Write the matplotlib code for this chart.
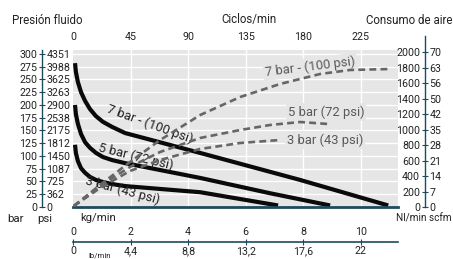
import matplotlib
matplotlib.use("Agg")
import matplotlib.pyplot as plt
from matplotlib import font_manager as fm

# ---------------- data ----------------
# fluid pressure curves (x: kg/min, y: bar)
kg_7 = [0.07, 0.10, 0.17, 0.28, 0.42, 0.59, 0.80, 1.04, 1.36, 1.81, 4.42, 7.90, 10.96]
bar_7 = [282, 265, 245, 225, 208, 192, 178, 167, 157, 145, 106, 53, 3]
kg_5 = [0.07, 0.10, 0.17, 0.28, 0.42, 0.59, 0.80, 1.04, 1.36, 1.81, 4.42, 6.85, 8.94]
bar_5 = [200, 182, 163, 143, 127, 116, 106, 98, 92, 86, 57, 27, 3]
kg_3 = [0.07, 0.10, 0.17, 0.28, 0.42, 0.59, 0.80, 1.04, 1.36, 1.81, 4.42, 7.13]
bar_3 = [122, 106, 90, 76, 67, 59, 53, 49, 45, 41, 29, 3]

# air consumption curves (x: kg/min, y: Nl/min)
kg_a7 = [0.03, 0.94, 1.98, 3.03, 4.42, 5.81, 7.20, 8.59, 9.63, 11.05]
nl_a7 = [13, 285, 582, 867, 1190, 1423, 1592, 1721, 1773, 1786]
kg_a5 = [0.03, 0.94, 1.98, 3.03, 4.42, 5.81, 6.85, 7.90, 8.87]
nl_a5 = [13, 272, 518, 712, 893, 996, 1061, 1100, 1074]
kg_a3 = [0.03, 0.94, 1.98, 3.03, 4.42, 5.81, 7.20]
nl_a3 = [13, 246, 466, 608, 751, 828, 867]

# axes ticks / labels
bar_ticks = [0, 25, 50, 75, 100, 125, 150, 175, 200, 225, 250, 275, 300]
psi_labels = ["0", "362", "725", "1087", "1450", "1812", "2175", "2538", "2900",
              "3263", "3625", "3988", "4351"]
nl_ticks = [0, 200, 400, 600, 800, 1000, 1200, 1400, 1600, 1800, 2000]
scfm_labels = ["0", "7", "14", "21", "28", "35", "42", "50", "56", "63", "70"]
kg_ticks = [0, 2, 4, 6, 8, 10]
kg_labels = ["0", "2", "4", "6", "8", "10"]
lb_labels = ["0", "4,4", "8,8", "13,2", "17,6", "22"]
cyc_ticks = [0, 45, 90, 135, 180, 225]

curve_labels_black = ["7 bar - (100 psi)", "5 bar (72 psi)", "3 bar (43 psi)"]
curve_labels_gray = ["7 bar - (100 psi)", "5 bar (72 psi)", "3 bar (43 psi)"]

# ---------------- style ----------------
fonts = fm.fontManager.ttflist
names = {f.name for f in fonts}
if "Liberation Sans Narrow" in names:
    plt.rcParams["font.family"] = ["Liberation Sans Narrow", "DejaVu Sans"]
    SC = 1.15
else:
    plt.rcParams["font.family"] = ["Roboto", "DejaVu Sans"]
    SC = 1.0

W, H = 453, 259
fig = plt.figure(figsize=(W / 100, H / 100), dpi=100)

def fx(px):
    return px / W

def fy(py):
    return 1 - py / H

BG = "#e6e6e6"
TEAL = "#1d4b5c"
TXT = "#222222"
GRAY = "#595959"
TS = 7.7 * SC
LS = 9.4 * SC
TT = 8.3 * SC

XMAX = 11.30
BMAX = 307.8
NLMAX = 2031.6

# main plot
ax = fig.add_axes([fx(73), fy(207), fx(398) - fx(73), fy(50) - fy(207)])
ax.set_facecolor(BG)
ax.set_xlim(0, XMAX)
ax.set_ylim(0, BMAX)
ax.set_xticks(kg_ticks[1:])
ax.set_yticks(bar_ticks[1:])
ax.grid(True, color="white", linewidth=1.0)
ax.set_axisbelow(True)
ax.tick_params(length=0, labelbottom=False, labelleft=False)
for s in ["top", "right", "left"]:
    ax.spines[s].set_visible(False)
ax.spines["bottom"].set_color(TEAL)
ax.spines["bottom"].set_linewidth(2.0)
ax.spines["bottom"].set_zorder(5)

for k, b in [(kg_7, bar_7), (kg_5, bar_5), (kg_3, bar_3)]:
    ax.plot(k, b, color="#0a0a0a", linewidth=3.0, solid_capstyle="butt",
            solid_joinstyle="round", zorder=3)

# black curve labels
ax.text(2.68, 163, curve_labels_black[0], rotation=-20, ha="center", va="center",
        fontsize=LS, color=TXT, zorder=4, rotation_mode="anchor")
ax.text(2.19, 98, curve_labels_black[1], rotation=-14, ha="center", va="center",
        fontsize=LS, color=TXT, zorder=4, rotation_mode="anchor")
ax.text(1.74, 33, curve_labels_black[2], rotation=-15, ha="center", va="center",
        fontsize=LS, color=TXT, zorder=4, rotation_mode="anchor")

# top cycles axis
sec = ax.secondary_xaxis("top", functions=(lambda k: k * 22.5, lambda c: c / 22.5))
sec.set_xticks(cyc_ticks)
sec.tick_params(length=0, pad=5.5, labelsize=TS, labelcolor=TXT)
sec.spines["top"].set_visible(False)

# air consumption on twin axis
ax2 = ax.twinx()
ax2.set_ylim(0, NLMAX)
ax2.axis("off")
bbox = dict(boxstyle="square,pad=0.15", facecolor=BG, edgecolor="none")
ax2.text(8.25, 1815, curve_labels_gray[0], rotation=7, ha="center", va="center",
         fontsize=LS, color=GRAY, zorder=1, bbox=bbox, rotation_mode="anchor")
ax2.text(8.80, 1229, curve_labels_gray[1], ha="center", va="center",
         fontsize=LS, color=GRAY, zorder=1, bbox=bbox)
ax2.text(8.77, 867, curve_labels_gray[2], ha="center", va="center",
         fontsize=LS, color=GRAY, zorder=1, bbox=bbox)
for k, n in [(kg_a7, nl_a7), (kg_a5, nl_a5), (kg_a3, nl_a3)]:
    ax2.plot(k, n, color="#666666", linewidth=1.9, linestyle=(0, (2.6, 1.6)),
             zorder=2)

# left pressure axis
axl = fig.add_axes([fx(42), fy(207), 0.0001, fy(50) - fy(207)])
axl.set_ylim(0, BMAX)
axl.patch.set_visible(False)
for s in ["top", "right", "bottom"]:
    axl.spines[s].set_visible(False)
axl.spines["left"].set_color(TEAL)
axl.spines["left"].set_linewidth(1.0)
axl.set_xticks([])
axl.set_yticks(bar_ticks)
axl.set_yticklabels([str(b) for b in bar_ticks])
axl.tick_params(axis="y", direction="inout", length=4, width=0.8, color=TEAL,
                pad=1.5, labelsize=TS, labelcolor=TXT)
axl2 = axl.twinx()
axl2.set_ylim(0, BMAX)
for s in axl2.spines.values():
    s.set_visible(False)
axl2.set_yticks(bar_ticks)
axl2.set_yticklabels(psi_labels)
axl2.tick_params(axis="y", length=0, pad=3.0, labelsize=TS, labelcolor=TXT)

# right air axis
axr = fig.add_axes([fx(425), fy(207), 0.0001, fy(36) - fy(207)])
axr.set_ylim(0, (207 - 36) * 12.94)
axr.patch.set_visible(False)
for s in ["top", "right", "bottom"]:
    axr.spines[s].set_visible(False)
axr.spines["left"].set_color(TEAL)
axr.spines["left"].set_linewidth(1.0)
axr.set_xticks([])
axr.set_yticks(nl_ticks)
axr.set_yticklabels([str(n) for n in nl_ticks])
axr.tick_params(axis="y", direction="inout", length=4, width=0.8, color=TEAL,
                pad=1.5, labelsize=TS, labelcolor=TXT)
axr2 = axr.twinx()
axr2.set_ylim(0, (207 - 36) * 12.94)
for s in axr2.spines.values():
    s.set_visible(False)
axr2.set_yticks(nl_ticks)
axr2.set_yticklabels(scfm_labels)
axr2.tick_params(axis="y", length=0, pad=3.0, labelsize=TS, labelcolor=TXT)

# bottom mass axis
axb = fig.add_axes([fx(73), fy(242), fx(398) - fx(73), 0.0001])
axb.set_xlim(0, XMAX)
axb.patch.set_visible(False)
for s in ["top", "right", "left"]:
    axb.spines[s].set_visible(False)
axb.spines["bottom"].set_color(TEAL)
axb.spines["bottom"].set_linewidth(1.2)
axb.set_yticks([])
axb.xaxis.set_ticks_position("bottom")
axb.set_xticks(kg_ticks)
axb.set_xticklabels(lb_labels)
axb.tick_params(axis="x", direction="inout", length=4, width=0.8, color=TEAL,
                pad=1.0, labelsize=TS, labelcolor=TXT)
axb2 = axb.twiny()
axb2.set_xlim(0, XMAX)
for s in axb2.spines.values():
    s.set_visible(False)
axb2.set_xticks(kg_ticks)
axb2.set_xticklabels(kg_labels)
axb2.tick_params(axis="x", length=0, pad=3.5, labelsize=TS, labelcolor=TXT)

# titles / unit labels
fig.text(fx(12), fy(20), "Presión fluido", fontsize=TT, color=TXT, ha="left", va="center")
fig.text(fx(249), fy(20), "Ciclos/min", fontsize=TT, color=TXT, ha="center", va="center")
fig.text(fx(452), fy(20), "Consumo de aire", fontsize=TT, color=TXT, ha="right", va="center")
fig.text(fx(7), fy(219), "bar", fontsize=TS + 0.5, color=TXT, ha="left", va="center")
fig.text(fx(37), fy(219), "psi", fontsize=TS + 0.5, color=TXT, ha="left", va="center")
fig.text(fx(452), fy(219), "Nl/min scfm", fontsize=TS - 0.5, color=TXT, ha="right", va="center")
fig.text(fx(80), fy(218), "kg/min", fontsize=TS + 0.5, color=TXT, ha="left", va="center")
fig.text(fx(88), fy(255.5), "lb/min", fontsize=TS - 2, color=TXT, ha="left", va="center")

fig.savefig("out.png", dpi=100)
